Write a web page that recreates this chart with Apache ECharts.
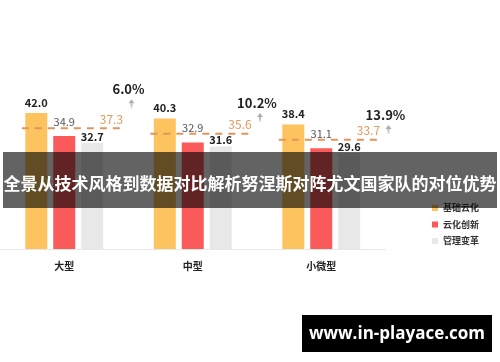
<!DOCTYPE html>
<html><head><meta charset="utf-8">
<script src="https://cdn.jsdelivr.net/npm/echarts@6/dist/echarts.min.js"></script>
<style>html,body{margin:0;padding:0;background:#fff}#c{width:500px;height:362px}</style>
</head><body><div id="c"></div>
<script>
const categories = ['大型', '中型', '小微型'];
const seriesNames = ['基础云化', '云化创新', '管理变革'];
const basicCloud = [42.0, 40.3, 38.4];
const cloudInnovation = [34.9, 32.9, 31.1];
const mgmtChange = [32.7, 31.6, 29.6];
const averages = [37.3, 35.6, 33.7];
const growth = [6.0, 10.2, 13.9];
const bannerTitle = '全景从技术风格到数据对比解析努涅斯对阵尤文国家队的对位优势';
const watermarkText = 'www.in-playace.com';

const FONT = '"Noto Sans CJK SC", "Noto Sans", sans-serif';
const chart = echarts.init(document.getElementById('c'), null, {renderer: 'canvas'});

function renderAvg(params, api) {
  const c = api.coord([api.value(0), api.value(1)]);
  const band = api.size([1, 0])[0];
  const x1 = c[0] - band * 0.33, x2 = c[0] + band * 0.45;
  return {type: 'group', children: [
    {type: 'line', shape: {x1: x1, y1: c[1], x2: x2, y2: c[1]},
     style: {stroke: '#e3945c', lineWidth: 2, lineDash: [7, 6]}},
    {type: 'text', x: x2 + 1, y: c[1] - 3,
     style: {text: api.value(1).toFixed(1), fill: '#e39a5e', font: '12px ' + FONT,
             align: 'right', verticalAlign: 'bottom', textAlign: 'right', textVerticalAlign: 'bottom'}}
  ]};
}
function renderGrowth(params, api) {
  const c = api.coord([api.value(0), api.value(1)]);
  const band = api.size([1, 0])[0];
  const x = c[0] + band * 0.5;
  const y = c[1];
  const ax = x + 3;
  const grad = new echarts.graphic.LinearGradient(0, 0, 0, 1, [
    {offset: 0, color: '#a9aeb6'}, {offset: 1, color: '#e6e8eb'}]);
  return {type: 'group', children: [
    {type: 'text', x: x, y: y,
     style: {text: api.value(1).toFixed(1) + '%', fill: '#222', font: 'bold 13px ' + FONT,
             align: 'center', verticalAlign: 'middle', textAlign: 'center', textVerticalAlign: 'middle'}},
    {type: 'polygon', shape: {points: [[ax, y + 10], [ax - 3, y + 14], [ax + 3, y + 14]]},
     style: {fill: '#a9aeb6'}},
    {type: 'rect', shape: {x: ax - 1, y: y + 14, width: 2, height: 5}, style: {fill: grad}}
  ]};
}

const barLabel = (color, weight, dist) => ({
  show: true, position: 'top', distance: dist, color: color, fontWeight: weight,
  fontSize: 11, fontFamily: FONT, formatter: p => p.value.toFixed(1)
});

chart.setOption({
  animation: false,
  textStyle: {fontFamily: FONT},
  grid: {left: 0, right: 114.5, top: 87, bottom: 113, containLabel: false},
  legend: {
    data: seriesNames, orient: 'vertical', left: 432, top: 203, padding: 0,
    itemWidth: 6, itemHeight: 6, itemGap: 6.5, icon: 'rect',
    textStyle: {fontSize: 9, color: '#333', fontWeight: 'bold', lineHeight: 10}
  },
  xAxis: {
    type: 'category', data: categories,
    axisLine: {lineStyle: {color: '#e8e8e8', width: 1}},
    axisTick: {show: false},
    axisLabel: {color: '#222', fontSize: 10, fontWeight: 'bold', margin: 12}
  },
  yAxis: [
    {type: 'value', min: 0, max: 50, show: false, splitLine: {show: false}},
    {type: 'value', min: 5.3, max: 55, inverse: true, show: false, splitLine: {show: false}}
  ],
  series: [
    {name: seriesNames[0], type: 'bar', data: basicCloud, barWidth: 22, barGap: '27%',
     itemStyle: {color: '#fcc35e'}, label: barLabel('#222', 'bold', 5)},
    {name: seriesNames[1], type: 'bar', data: cloudInnovation, barWidth: 22, barGap: '27%',
     itemStyle: {color: '#fa5a5a'}, label: barLabel('#555', 'normal', 9)},
    {name: seriesNames[2], type: 'bar', data: mgmtChange, barWidth: 22, barGap: '27%',
     itemStyle: {color: '#e8e8e9'}, label: barLabel('#222', 'bold', 1)},
    {type: 'custom', renderItem: renderAvg, z: 5,
     data: averages.map((v, i) => [i, v]), encode: {x: 0, y: 1}},
    {type: 'custom', renderItem: renderGrowth, yAxisIndex: 1, z: 5,
     data: growth.map((v, i) => [i, v]), encode: {x: 0, y: 1}}
  ],
  graphic: [
    {type: 'rect', z: 100, shape: {x: 3, y: 152, width: 494, height: 56},
     style: {fill: 'rgba(0,0,0,0.61)'}},
    {type: 'text', z: 101, x: 250, y: 184,
     style: {text: bannerTitle, fill: '#fff', font: 'bold 17px ' + FONT,
             align: 'center', verticalAlign: 'middle', textAlign: 'center', textVerticalAlign: 'middle'}},
    {type: 'rect', z: 100, shape: {x: 302, y: 315, width: 190, height: 37}, style: {fill: '#000'}},
    {type: 'text', z: 101, x: 397, y: 334,
     style: {text: watermarkText, fill: '#fff', font: 'bold 17px "Open Sans", sans-serif',
             align: 'center', verticalAlign: 'middle', textAlign: 'center', textVerticalAlign: 'middle'}}
  ]
});
</script></body></html>
